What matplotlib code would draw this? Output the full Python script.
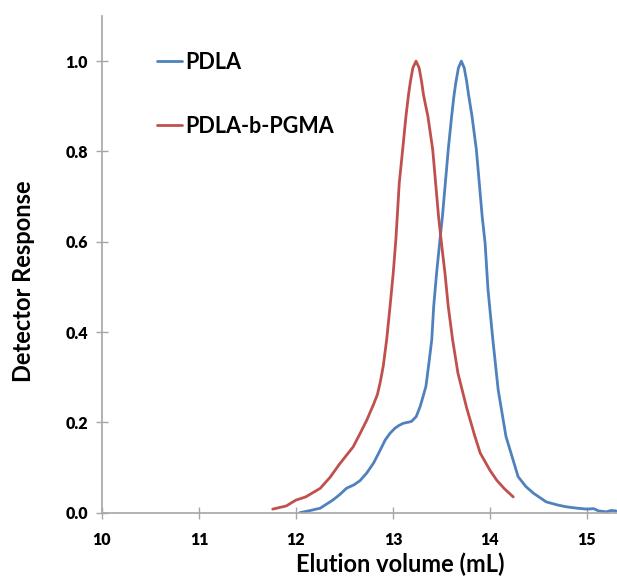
import matplotlib.pyplot as plt

# PDLA trace
pdla_x = [12.04, 12.15, 12.25, 12.38, 12.45, 12.52, 12.60, 12.66, 12.73, 12.80,
          12.86, 12.92, 12.97, 13.02, 13.06, 13.106, 13.19, 13.24, 13.28, 13.31,
          13.34, 13.37, 13.40, 13.42, 13.45, 13.485, 13.51, 13.54, 13.57, 13.605,
          13.63, 13.65, 13.675, 13.705, 13.735, 13.76, 13.78, 13.815, 13.86, 13.89,
          13.92, 13.95, 13.98, 14.03, 14.085, 14.165, 14.22, 14.29, 14.37, 14.45,
          14.58, 14.70, 14.79, 14.90, 15.00, 15.07, 15.12, 15.20, 15.25, 15.30]
pdla_y = [0.000, 0.005, 0.010, 0.028, 0.040, 0.054, 0.062, 0.071, 0.088, 0.110,
          0.135, 0.161, 0.176, 0.187, 0.193, 0.198, 0.202, 0.213, 0.235, 0.257,
          0.280, 0.330, 0.383, 0.457, 0.531, 0.605, 0.656, 0.730, 0.804, 0.878,
          0.925, 0.955, 0.985, 1.000, 0.985, 0.955, 0.925, 0.878, 0.804, 0.730,
          0.656, 0.597, 0.494, 0.383, 0.272, 0.169, 0.130, 0.080, 0.058, 0.043,
          0.024, 0.017, 0.013, 0.010, 0.008, 0.009, 0.004, 0.002, 0.005, 0.004]

# PDLA-b-PGMA trace
pgma_x = [11.76, 11.90, 12.00, 12.10, 12.25, 12.35, 12.45, 12.59, 12.66, 12.73,
          12.80, 12.84, 12.87, 12.90, 12.935, 12.97, 13.003, 13.03, 13.065, 13.10,
          13.134, 13.16, 13.18, 13.205, 13.238, 13.27, 13.295, 13.315, 13.36, 13.41,
          13.44, 13.47, 13.50, 13.536, 13.57, 13.615, 13.67, 13.76, 13.845, 13.90,
          14.00, 14.07, 14.15, 14.24]
pgma_y = [0.008, 0.015, 0.028, 0.035, 0.054, 0.078, 0.108, 0.146, 0.175, 0.205,
          0.240, 0.262, 0.290, 0.325, 0.383, 0.457, 0.531, 0.605, 0.730, 0.804,
          0.878, 0.925, 0.955, 0.985, 1.000, 0.985, 0.955, 0.925, 0.878, 0.804,
          0.730, 0.656, 0.597, 0.531, 0.457, 0.383, 0.309, 0.232, 0.169, 0.132,
          0.094, 0.072, 0.053, 0.035]

x_ticks = [10, 11, 12, 13, 14, 15]
y_ticks = [0.0, 0.2, 0.4, 0.6, 0.8, 1.0]

plt.rcParams['font.family'] = ['Lato', 'DejaVu Sans']
AXIS_GRAY = '#A6A6A6'

fig = plt.figure(figsize=(6.17, 5.77), dpi=100)
ax = fig.add_axes([0.1653, 0.1114, 0.8347, 0.8609])

ax.plot(pdla_x, pdla_y, color='#4F81BD', linewidth=2.0, label='PDLA',
        solid_joinstyle='round', solid_capstyle='round')
ax.plot(pgma_x, pgma_y, color='#C0504D', linewidth=2.0, label='PDLA-b-PGMA',
        solid_joinstyle='round', solid_capstyle='round')

ax.set_xlim(10, 15.31)
ax.set_ylim(0, 1.1)
ax.set_xticks(x_ticks)
ax.set_yticks(y_ticks)
ax.set_xticklabels([str(t) for t in x_ticks])
ax.set_yticklabels([f'{t:.1f}' for t in y_ticks])

for side in ['top', 'right']:
    ax.spines[side].set_visible(False)
for side in ['left', 'bottom']:
    ax.spines[side].set_color(AXIS_GRAY)
    ax.spines[side].set_linewidth(1.2)

ax.tick_params(axis='both', direction='inout', length=8, width=1.0,
               color=AXIS_GRAY, labelsize=11.5)
ax.tick_params(axis='x', pad=10)
ax.tick_params(axis='y', pad=6)
for lbl in ax.get_xticklabels() + ax.get_yticklabels():
    lbl.set_fontweight('heavy')

ax.set_xlabel('Elution volume (mL)', fontsize=17, fontweight='bold')
ax.xaxis.set_label_coords(0.58, -0.081)
ax.set_ylabel('Detector Response', fontsize=17, fontweight='bold')
ax.yaxis.set_label_coords(-0.13, 0.466)

leg = ax.legend(loc='upper left', bbox_to_anchor=(0.085, 0.95), frameon=False,
                prop={'size': 15.5, 'weight': 'bold'}, handlelength=1.2,
                handletextpad=0.15, labelspacing=2.0, borderpad=0)
for line in leg.get_lines():
    line.set_linewidth(2.0)

fig.savefig('out.png', dpi=100)
